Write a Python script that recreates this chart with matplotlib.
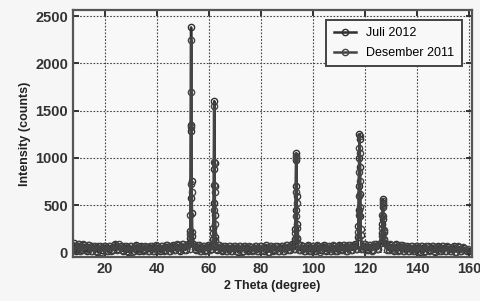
import numpy as np
import matplotlib.pyplot as plt

plt.rcParams['font.family'] = ['Liberation Sans Narrow', 'Liberation Sans', 'DejaVu Sans']

# background counts, Juli 2012, 2theta = 8, 9, ..., 160
juli_bg = [95, 15, 88, 22, 80, 10, 76, 18, 70, 8,
           64, 20, 72, 12, 66, 25, 92, 30, 68, 14,
           70, 6, 62, 18, 74, 10, 66, 24, 58, 12,
           68, 16, 72, 9, 64, 20, 78, 14, 82, 22,
           80, 18, 84, 26, 90, 40, 92, 20, 76, 12,
           70, 24, 82, 30, 90, 28, 74, 16, 68, 10,
           66, 14, 70, 8, 62, 18, 72, 12, 60, 20,
           68, 10, 64, 16, 74, 6, 70, 22, 62, 14,
           72, 18, 76, 24, 88, 36, 90, 20, 70, 12,
           74, 16, 66, 10, 72, 20, 80, 14, 64, 18,
           70, 12, 76, 22, 80, 16, 74, 26, 86, 40,
           95, 30, 84, 20, 76, 28, 88, 36, 98, 110,
           90, 24, 80, 18, 84, 22, 78, 14, 70, 10,
           66, 16, 72, 8, 68, 14, 62, 20, 70, 6,
           64, 12, 66, 18, 60, 10, 68, 8, 58, 14,
           50, 10, 15]

# background counts, Desember 2011, 2theta = 8.5, 9.5, ..., 159.5
des_bg = [20, 92, 12, 84, 25, 78, 10, 72, 16, 66,
          8, 70, 18, 62, 10, 76, 28, 84, 20, 64,
          14, 68, 8, 72, 20, 60, 12, 70, 18, 62,
          10, 74, 22, 66, 12, 80, 18, 72, 26, 84,
          20, 86, 28, 82, 35, 95, 30, 80, 14, 72,
          18, 78, 26, 88, 34, 80, 20, 70, 12, 66,
          10, 64, 16, 72, 8, 68, 20, 62, 14, 70,
          12, 66, 20, 60, 8, 72, 16, 68, 10, 64,
          14, 74, 22, 80, 30, 96, 28, 76, 16, 68,
          12, 70, 18, 76, 8, 66, 22, 72, 10, 78,
          16, 68, 20, 74, 12, 80, 24, 78, 34, 100,
          36, 90, 24, 80, 18, 86, 30, 92, 40, 96,
          28, 84, 20, 76, 16, 80, 12, 72, 18, 68,
          10, 70, 14, 64, 8, 72, 16, 66, 12, 60,
          14, 66, 10, 62, 18, 58, 8, 64, 12, 56,
          20, 40]

# peaks (2theta, counts)
juli_peaks = [
    ([52.7, 52.8, 52.9, 53.0, 53.1, 53.2, 53.3, 53.4, 53.5],
     [150, 230, 580, 1280, 2380, 1350, 760, 420, 170]),
    ([61.6, 61.7, 61.8, 61.9, 62.0, 62.1, 62.2, 62.3, 62.4],
     [140, 260, 520, 880, 1600, 950, 700, 400, 160]),
    ([93.1, 93.2, 93.3, 93.4, 93.5, 93.6, 93.7, 93.8, 93.9],
     [140, 250, 450, 700, 1050, 980, 600, 300, 150]),
    ([117.3, 117.4, 117.5, 117.6, 117.7, 117.8, 117.9, 118.0, 118.1, 118.2, 118.3],
     [160, 280, 450, 700, 1000, 1250, 1200, 900, 620, 380, 180]),
    ([126.4, 126.5, 126.6, 126.7, 126.8, 126.9, 127.0, 127.1, 127.2],
     [120, 200, 300, 480, 560, 520, 350, 220, 130]),
]
des_peaks = [
    ([52.75, 52.85, 52.95, 53.05, 53.15, 53.25, 53.35, 53.45],
     [190, 400, 720, 1700, 2250, 1330, 640, 210]),
    ([61.65, 61.75, 61.85, 61.95, 62.05, 62.15, 62.25, 62.35],
     [200, 450, 710, 1550, 960, 640, 300, 130]),
    ([93.15, 93.25, 93.35, 93.45, 93.55, 93.65, 93.75, 93.85],
     [200, 380, 640, 1000, 1020, 520, 260, 140]),
    ([117.35, 117.45, 117.55, 117.65, 117.75, 117.85, 117.95, 118.05, 118.15, 118.25],
     [220, 400, 600, 850, 1100, 1230, 1050, 760, 480, 250]),
    ([126.45, 126.55, 126.65, 126.75, 126.85, 126.95, 127.05, 127.15],
     [170, 260, 400, 540, 500, 380, 240, 140]),
]

def build(start, bg, peaks):
	th = start + np.arange(len(bg))
	y = np.array(bg, dtype=float)
	keep = np.ones(len(th), bool)
	for pt, pc in peaks:
		keep &= ~((th >= min(pt)) & (th <= max(pt)))
	th, y = list(th[keep]), list(y[keep])
	for pt, pc in peaks:
		th += pt
		y += pc
	order = np.argsort(th)
	return np.array(th)[order], np.array(y)[order]

x1, y1 = build(8.0, juli_bg, juli_peaks)
x2, y2 = build(8.5, des_bg, des_peaks)

fig = plt.figure(figsize=(4.8, 3.01), dpi=100, facecolor='#f6f6f6')
ax = fig.add_axes([0.152, 0.146, 0.831, 0.821], facecolor='#f8f8f8')

ax.plot(x1, y1, '-o', color='#303030', lw=1.8, ms=4.5, mfc='none', mew=1.0, label='Juli 2012')
ax.plot(x2, y2, '-o', color='#444444', lw=1.8, ms=4.5, mfc='none', mew=1.0, label='Desember 2011')

ax.set_xlim(7.7, 161)
ax.set_ylim(-50, 2565)
ax.set_xticks(range(20, 161, 20))
ax.set_yticks(range(0, 2501, 500))
ax.grid(True, ls=(0, (1.5, 1.5)), color='#444444', lw=0.8)
ax.tick_params(direction='in', length=4, width=1.4, colors='#333333', top=True, right=True,
               labelsize=10.5)
for lab in ax.get_xticklabels() + ax.get_yticklabels():
	lab.set_fontweight('bold')
for s in ax.spines.values():
	s.set_linewidth(1.6)
	s.set_color('#555555')

ax.set_xlabel('2 Theta (degree)', fontsize=9, fontweight='bold', color='#222222', labelpad=3)
ax.set_ylabel('Intensity (counts)', fontsize=9, fontweight='bold', color='#222222', labelpad=3)

leg = ax.legend(loc='upper right', fontsize=9, fancybox=False, framealpha=1,
                edgecolor='#444444', facecolor='#f8f8f8', borderaxespad=0.8,
                handlelength=1.8, borderpad=0.6, labelspacing=0.6)
leg.get_frame().set_linewidth(1.4)

fig.savefig('out.png', dpi=100, facecolor=fig.get_facecolor())
